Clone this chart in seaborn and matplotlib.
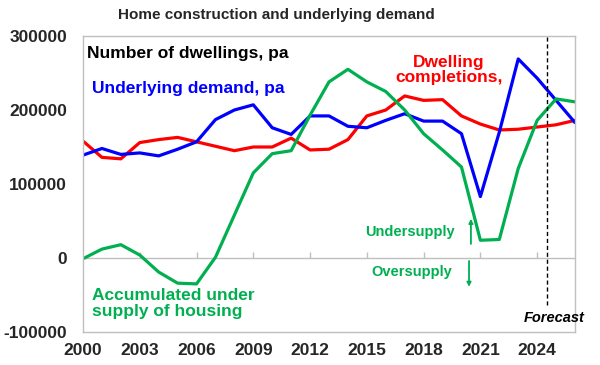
import pandas as pd
import matplotlib
matplotlib.use('Agg')
import matplotlib.pyplot as plt
import seaborn as sns
from matplotlib.ticker import FuncFormatter

years = [2000, 2001, 2002, 2003, 2004, 2005, 2006, 2007, 2008, 2009,
         2010, 2011, 2012, 2013, 2014, 2015, 2016, 2017, 2018, 2019,
         2020, 2021, 2022, 2023, 2024, 2025, 2026]

# thousands of dwellings
demand = [139, 148, 140, 142, 138, 147, 157, 187, 200, 207,
          176, 167, 192, 192, 178, 176, 186, 195, 185, 185,
          168, 83, 170, 269, 243, 213, 183]
completions = [158, 136, 134, 156, 160, 163, 157, 151, 145, 150,
               150, 162, 146, 147, 160, 192, 200, 219, 213, 214,
               192, 181, 173, 174, 177, 180, 186]
undersupply = [-1, 12, 18, 4, -19, -34, -35, 1, 58, 115,
               141, 145, 193, 238, 255, 238, 225, 200, 168, 146,
               123, 24, 25, 121, 186, 215, 211]

xticks = [2000, 2003, 2006, 2009, 2012, 2015, 2018, 2021, 2024]
yticks = [-100000, 0, 100000, 200000, 300000]
forecast_year = 2024.5

colors = {'Completions': '#ff0000', 'Demand': '#0000ff', 'Undersupply': '#00b050'}

df = pd.concat([
    pd.DataFrame({'year': years, 'value': [v * 1000 for v in completions], 'series': 'Completions'}),
    pd.DataFrame({'year': years, 'value': [v * 1000 for v in demand], 'series': 'Demand'}),
    pd.DataFrame({'year': years, 'value': [v * 1000 for v in undersupply], 'series': 'Undersupply'}),
])

sns.set_style('white')
plt.rcParams['font.family'] = ['Liberation Sans', 'DejaVu Sans']
plt.rcParams['font.weight'] = 'bold'

fig = plt.figure(figsize=(6, 3.65), dpi=100)
ax = fig.add_axes([83 / 600, 1 - 332 / 365, 492 / 600, 296 / 365])

sns.lineplot(data=df, x='year', y='value', hue='series', palette=colors,
             hue_order=['Completions', 'Demand', 'Undersupply'],
             linewidth=2.3, legend=False, ax=ax)

ax.set_xlim(2000, 2026)
ax.set_ylim(-100000, 300000)
ax.set_xticks(xticks)
ax.set_yticks(yticks)
ax.yaxis.set_major_formatter(FuncFormatter(lambda v, p: f'{int(v)}'))
ax.set_xlabel('')
ax.set_ylabel('')

for s in ax.spines.values():
    s.set_color('#bfbfbf')
    s.set_linewidth(1)

ax.tick_params(axis='x', length=0, pad=8, labelsize=12.5)
ax.tick_params(axis='y', length=3, width=1, color='#bfbfbf', pad=8.5, labelsize=12.5)
for lab in ax.get_xticklabels() + ax.get_yticklabels():
    lab.set_fontweight('bold')

# zero line with small tick marks, like the source chart
ax.axhline(0, color='#bfbfbf', lw=1, zorder=1)
ax.vlines(xticks[1:], 0, 8000, color='#bfbfbf', lw=1, zorder=1)

# forecast marker
ax.vlines(forecast_year, -64000, 300000, colors='black', linestyles=(0, (3, 2)), lw=1)
ax.text(2024.9, -81000, 'Forecast', ha='center', va='center', fontsize=10.5,
        fontstyle='italic', fontweight='bold', color='black', clip_on=False)

fig.text(276 / 600, 1 - 15 / 365, 'Home construction and underlying demand',
         ha='center', va='center', fontsize=11, fontweight='bold')

ax.text(2000.2, 275700, 'Number of dwellings, pa', ha='left', va='center',
        fontsize=12.5, fontweight='bold', color='black')
ax.text(2000.5, 229700, 'Underlying demand, pa', ha='left', va='center',
        fontsize=12.5, fontweight='bold', color=colors['Demand'])
ax.text(2019.35, 254000, 'Dwelling\ncompletions,', ha='center', va='center',
        multialignment='center', linespacing=0.95,
        fontsize=12.5, fontweight='bold', color=colors['Completions'])
ax.text(2000.5, -62000, 'Accumulated under\nsupply of housing', ha='left', va='center',
        linespacing=1.1, fontsize=12.5, fontweight='bold', color=colors['Undersupply'])

ax.text(2019.65, 35000, 'Undersupply', ha='right', va='center',
        fontsize=10.5, fontweight='bold', color=colors['Undersupply'])
ax.text(2019.5, -19000, 'Oversupply', ha='right', va='center',
        fontsize=10.5, fontweight='bold', color=colors['Undersupply'])
ax.annotate('', xy=(2020.5, 53000), xytext=(2020.5, 19000),
            arrowprops=dict(arrowstyle='-|>', color=colors['Undersupply'], lw=1.3,
                            mutation_scale=6, shrinkA=0, shrinkB=0))
ax.annotate('', xy=(2020.4, -39000), xytext=(2020.4, -4000),
            arrowprops=dict(arrowstyle='-|>', color=colors['Undersupply'], lw=1.3,
                            mutation_scale=6, shrinkA=0, shrinkB=0))

fig.savefig('out.png', dpi=100)
